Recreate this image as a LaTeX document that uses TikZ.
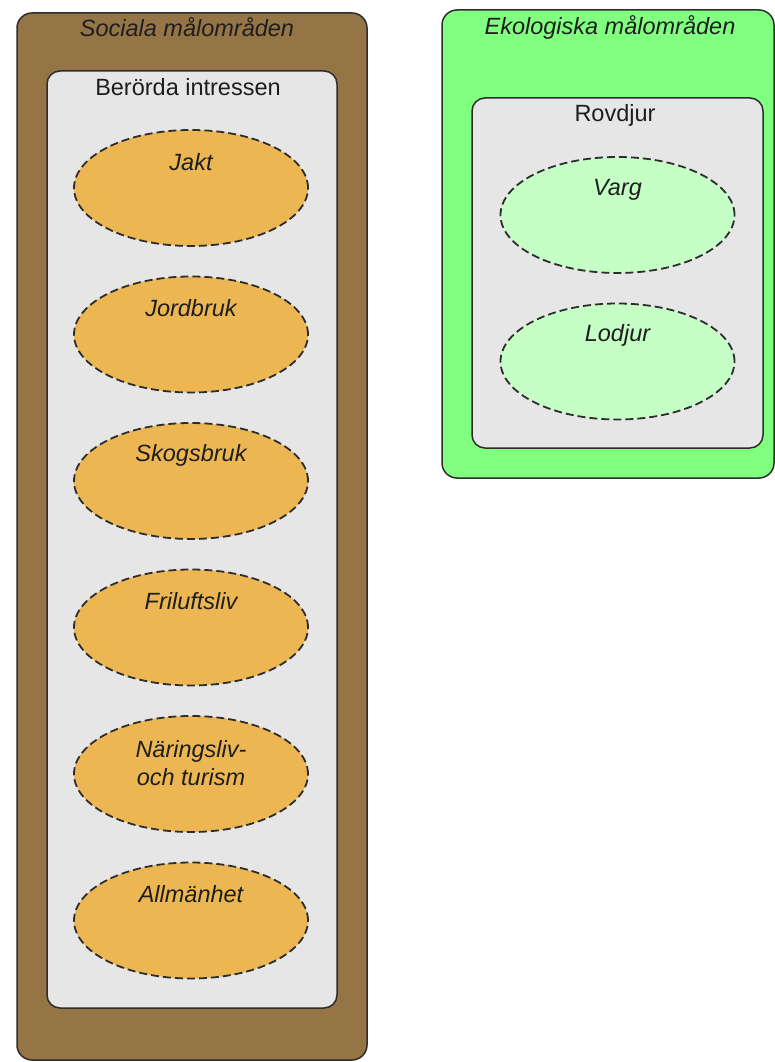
\documentclass[tikz,border=0pt]{standalone}
\usepackage{fontspec}
\setmainfont{Liberation Sans}
\usetikzlibrary{shapes.geometric}
\definecolor{brownbox}{RGB}{149,117,70}
\definecolor{greenbox}{RGB}{128,255,128}
\definecolor{graybox}{RGB}{230,230,230}
\definecolor{orangeell}{RGB}{236,182,82}
\definecolor{greenell}{RGB}{198,255,198}
\definecolor{edge}{RGB}{45,45,45}
\definecolor{txt}{RGB}{30,30,30}
\begin{document}
\begin{tikzpicture}[x=1pt,y=-1pt,
  box/.style={draw=edge, line width=1.5pt, rectangle, inner sep=0pt},
  outerbox/.style={box, rounded corners=15pt},
  innerbox/.style={box, rounded corners=13pt, fill=graybox},
  ell/.style={draw=edge, line width=1.8pt, dash pattern=on 8pt off 4pt, ellipse, inner sep=0pt, minimum width=234pt, minimum height=116pt},
  soc/.style={ell, fill=orangeell},
  eko/.style={ell, fill=greenell},
  lbl/.style={text=txt, font=\fontsize{23.5}{28}\selectfont, inner sep=0pt, align=center},
  ilbl/.style={lbl, font=\fontsize{23.5}{28}\selectfont\itshape}
]
\useasboundingbox (0,0) rectangle (775,1062);
% Social
\node[outerbox, fill=brownbox, minimum width=350pt, minimum height=1047pt] (socouter) at (192,536.5) {};
\node[ilbl] (soctitle) at (187,27) {Sociala målområden};
\node[innerbox, minimum width=290pt, minimum height=937pt] (socinner) at (192,539.5) {};
\node[lbl] (socsub) at (188,87) {Berörda intressen};
\node[soc] (jakt) at (191,188) {};
\node[ilbl] at ([yshift=26pt]jakt.center) {Jakt};
\node[soc] (jord) at (191,334.5) {};
\node[ilbl] at ([yshift=26pt]jord.center) {Jordbruk};
\node[soc] (skog) at (191,481) {};
\node[ilbl] at ([yshift=26pt]skog.center) {Skogsbruk};
\node[soc] (fril) at (191,627.5) {};
\node[ilbl] at ([yshift=26pt]fril.center) {Friluftsliv};
\node[soc] (nar) at (191,774) {};
\node[ilbl] at ([yshift=11pt]nar.center) {Näringsliv-\\och turism};
\node[soc] (allm) at (191,920.5) {};
\node[ilbl] at ([yshift=26pt]allm.center) {Allmänhet};
% Ecological
\node[outerbox, fill=greenbox, minimum width=332pt, minimum height=468pt] (ekoouter) at (608,244) {};
\node[ilbl] (ekotitle) at (610,27) {Ekologiska målområden};
\node[innerbox, minimum width=291pt, minimum height=350pt] (ekoinner) at (617.5,273) {};
\node[lbl] (ekosub) at (615,115) {Rovdjur};
\node[eko] (varg) at (617.5,215) {};
\node[ilbl] at ([yshift=25pt]varg.center) {Varg};
\node[eko] (lodjur) at (617.5,361.5) {};
\node[ilbl] at ([yshift=26pt]lodjur.center) {Lodjur};
\end{tikzpicture}
\end{document}
